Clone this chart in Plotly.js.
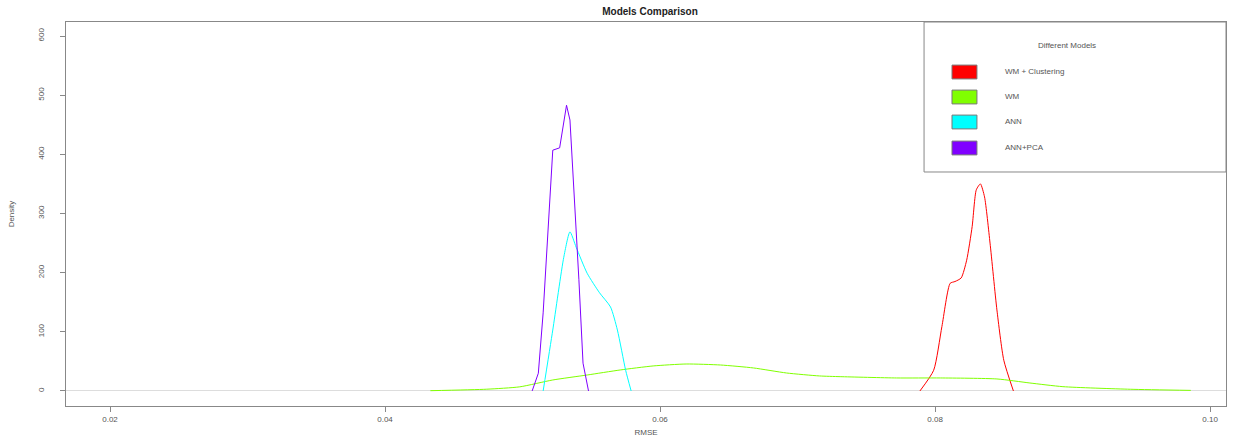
<!DOCTYPE html>
<html>
<head>
<meta charset="utf-8">
<script src="https://cdn.plot.ly/plotly-3.0.1.min.js"></script>
<style>html,body{margin:0;padding:0;background:#fff;}#chart{width:1256px;height:441px;}</style>
</head>
<body>
<div id="chart"></div>
<script>
// Series names and colours (R rainbow(4))
const seriesNames = ["WM + Clustering", "WM", "ANN", "ANN+PCA"];
const seriesColors = ["#FF0000", "#80FF00", "#00FFFF", "#8000FF"];

// WM + Clustering density
const wmClusterX = [0.0789, 0.0799, 0.0805, 0.0811, 0.08145, 0.0819, 0.0823, 0.0827, 0.0830, 0.0833, 0.0836, 0.0840, 0.0845, 0.0850, 0.0857];
const wmClusterY = [0, 35, 109, 182, 185, 191, 221, 278, 340, 350, 328, 250, 137, 52, 0];

// WM density
const wmX = [0.0433, 0.0474, 0.0498, 0.0522, 0.0547, 0.0571, 0.0595, 0.0619, 0.0644, 0.0668, 0.0692, 0.0716, 0.0731, 0.0772, 0.0804, 0.0845, 0.0869, 0.0893, 0.0942, 0.0986];
const wmY = [0.5, 3, 7, 18.6, 27, 35.5, 42.3, 45.6, 43.9, 38.9, 30.4, 25.4, 24.2, 22, 22, 20.3, 13.5, 7.3, 2.9, 1];

// ANN density
const annX = [0.0515, 0.0522, 0.0530, 0.05345, 0.0539, 0.0547, 0.0556, 0.0564, 0.0569, 0.0575, 0.0579];
const annY = [0, 103, 226, 269, 243, 199, 166, 142, 103, 35, 0];

// ANN+PCA density
const annPcaX = [0.0507, 0.05115, 0.0515, 0.0520, 0.0522, 0.0527, 0.0531, 0.0532, 0.05345, 0.0537, 0.0541, 0.0544, 0.0548];
const annPcaY = [0, 30, 132, 328, 407, 411, 475, 483, 458, 357, 188, 47, 0];

// Axis ticks
const xTickVals = [0.02, 0.04, 0.06, 0.08, 0.10];
const xTickText = ["0.02", "0.04", "0.06", "0.08", "0.10"];
const yTickVals = [0, 100, 200, 300, 400, 500, 600];
const yTickText = ["0", "100", "200", "300", "400", "500", "600"];

const xs = [wmClusterX, wmX, annX, annPcaX];
const ys = [wmClusterY, wmY, annY, annPcaY];
const shapesLine = ["spline", "spline", "spline", "linear"];

const traces = seriesNames.map((n, i) => ({
  type: "scatter", mode: "lines", name: n,
  x: xs[i], y: ys[i],
  line: {color: seriesColors[i], width: 1, shape: shapesLine[i], smoothing: 0.6},
  showlegend: false, hoverinfo: "skip"
}));

const FONT = "Liberation Sans, Arial, sans-serif";

// Manual legend (box, swatches, labels)
const legX0 = 0.7397, legX1 = 1.0, legY0 = 0.6094, legY1 = 1.0;
const itemY = [0.8698, 0.8047, 0.7396, 0.6719];
const shapes = [{type: "rect", xref: "paper", yref: "paper", x0: legX0, x1: legX1, y0: legY0, y1: legY1,
  line: {color: "#888", width: 1}, fillcolor: "rgba(255,255,255,0)"}];
const annotations = [{xref: "paper", yref: "paper", x: 0.863, y: 0.94, text: "Different Models",
  showarrow: false, xanchor: "center", yanchor: "middle", font: {family: FONT, size: 8, color: "#555"}}];
seriesNames.forEach((n, i) => {
  shapes.push({type: "rect", xref: "paper", yref: "paper", x0: 0.7638, x1: 0.7853,
    y0: itemY[i] - 0.018, y1: itemY[i] + 0.018, fillcolor: seriesColors[i], line: {color: "#777", width: 1}});
  annotations.push({xref: "paper", yref: "paper", x: 0.8078, y: itemY[i], text: n, showarrow: false,
    xanchor: "left", yanchor: "middle", font: {family: FONT, size: 8, color: "#555"}});
});

const layout = {
  width: 1256, height: 441,
  margin: {l: 66, r: 30, t: 22, b: 35},
  paper_bgcolor: "#fff", plot_bgcolor: "#fff",
  font: {family: FONT, size: 8, color: "#555"},
  title: {text: "<b>Models Comparison</b>", x: 0.5175, xanchor: "center", y: 0.973, yref: "container", yanchor: "middle",
    font: {family: FONT, size: 10, color: "#222"}},
  xaxis: {range: [0.0168, 0.10116], tickvals: xTickVals, ticktext: xTickText,
    showgrid: false, zeroline: false, showline: true, mirror: true, linecolor: "#888", linewidth: 1,
    ticks: "outside", ticklen: 5, tickcolor: "#888", tickfont: {family: FONT, size: 8, color: "#555"},
    title: {text: "RMSE", standoff: 6, font: {family: FONT, size: 8, color: "#555"}}, automargin: false},
  yaxis: {range: [-25.4, 623.7], tickvals: yTickVals, ticktext: yTickText, tickangle: -90,
    ticklabelstandoff: 13,
    showgrid: false, zeroline: true, zerolinecolor: "#ddd", zerolinewidth: 1,
    showline: true, mirror: true, linecolor: "#888", linewidth: 1,
    ticks: "outside", ticklen: 5, tickcolor: "#888", tickfont: {family: FONT, size: 8, color: "#555"},
    title: {text: "Density", standoff: 20, font: {family: FONT, size: 8, color: "#555"}}, automargin: false},
  shapes: shapes,
  annotations: annotations,
  showlegend: false
};

Plotly.newPlot("chart", traces, layout, {displayModeBar: false, staticPlot: true});
</script>
</body>
</html>
